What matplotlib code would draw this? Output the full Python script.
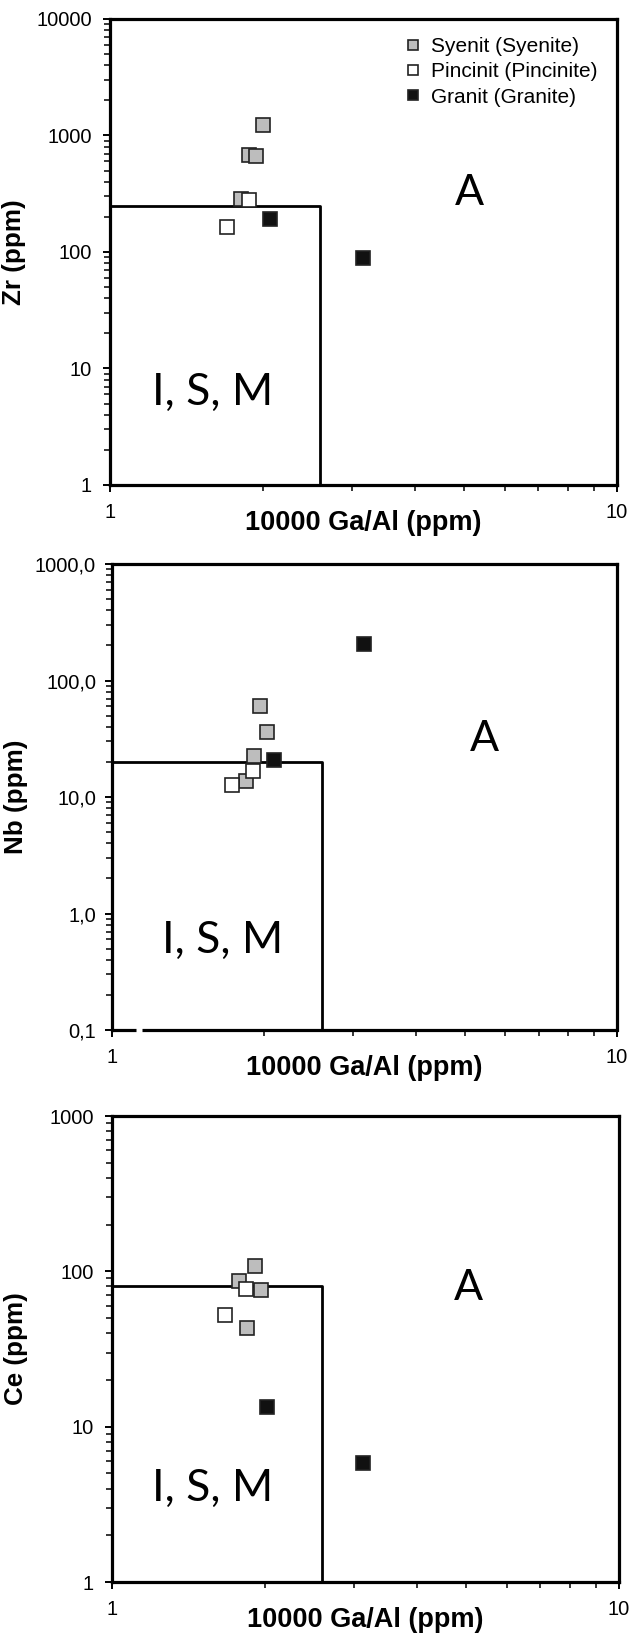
import matplotlib.pyplot as plt
from matplotlib.ticker import FixedLocator, FixedFormatter, LogLocator, NullFormatter

plt.rcParams['font.family'] = ['Liberation Sans', 'DejaVu Sans']

# 10000 Ga/Al vs Zr, Nb, Ce (ppm)
zr_syenite_x = [2.00, 1.88, 1.94, 1.81]
zr_syenite_y = [1224, 684, 670, 284]
zr_pinc_x = [1.88, 1.70]
zr_pinc_y = [280, 165]
zr_granite_x = [2.07, 3.16]
zr_granite_y = [191, 89]

nb_syenite_x = [1.96, 2.03, 1.91, 1.84]
nb_syenite_y = [61, 36.5, 22.4, 13.8]
nb_pinc_x = [1.73, 1.90]
nb_pinc_y = [12.7, 16.7]
nb_granite_x = [2.09, 3.16]
nb_granite_y = [20.7, 205]

ce_syenite_x = [1.91, 1.78, 1.97, 1.85]
ce_syenite_y = [109, 87, 76, 43]
ce_pinc_x = [1.84, 1.67]
ce_pinc_y = [77, 52]
ce_granite_x = [2.02, 3.13]
ce_granite_y = [13.3, 5.8]

# Whalen et al. boundaries
ga_al_limit = 2.6
zr_limit = 250
nb_limit = 20
ce_limit = 80

zr_ticks = [1, 10, 100, 1000, 10000]
zr_labels = ['1', '10', '100', '1000', '10000']
nb_ticks = [0.1, 1, 10, 100, 1000]
nb_labels = ['0,1', '1,0', '10,0', '100,0', '1000,0']
ce_ticks = [1, 10, 100, 1000]
ce_labels = ['1', '10', '100', '1000']

labels = ['Syenit (Syenite)', 'Pincinit (Pincinite)', 'Granit (Granite)']
fills = ['#bdbdbd', 'white', '#111111']

fig = plt.figure(figsize=(6.3, 16.34), dpi=100)

panels = [
    ([0.1746, 0.7032, 0.8048, 0.2852], 'Zr (ppm)', zr_ticks, zr_labels, zr_limit,
     [(zr_syenite_x, zr_syenite_y), (zr_pinc_x, zr_pinc_y), (zr_granite_x, zr_granite_y)],
     (0.708, 0.601), (0.203, 0.172), 8),
    ([0.1778, 0.3696, 0.8016, 0.2852], 'Nb (ppm)', nb_ticks, nb_labels, nb_limit,
     [(nb_syenite_x, nb_syenite_y), (nb_pinc_x, nb_pinc_y), (nb_granite_x, nb_granite_y)],
     (0.737, 0.599), (0.220, 0.165), 6.5),
    ([0.1778, 0.0318, 0.8048, 0.2852], 'Ce (ppm)', ce_ticks, ce_labels, ce_limit,
     [(ce_syenite_x, ce_syenite_y), (ce_pinc_x, ce_pinc_y), (ce_granite_x, ce_granite_y)],
     (0.702, 0.605), (0.199, 0.174), 8),
]

for i, (rect, ylab, yt, ytl, limit, groups, a_pos, ism_pos, ypad) in enumerate(panels):
    ax = fig.add_axes(rect)
    ax.set_xscale('log')
    ax.set_yscale('log')
    ax.set_xlim(1, 10)
    ax.set_ylim(yt[0], yt[-1])

    # field boundary
    ax.plot([1, ga_al_limit, ga_al_limit], [limit, limit, yt[0]],
            color='black', lw=2.0, zorder=2)

    for (x, y), fc, lab in zip(groups, fills, labels):
        ax.plot(x, y, 's', ms=9.5, mfc=fc, mec='#222222', mew=1.2,
                ls='none', label=lab, zorder=3)

    ax.text(*a_pos, 'A', transform=ax.transAxes, ha='center', va='baseline',
            fontsize=31, family='Lato')
    ax.text(*ism_pos, 'I, S, M', transform=ax.transAxes, ha='center', va='baseline',
            fontsize=32, family='Lato')

    ax.yaxis.set_major_locator(FixedLocator(yt))
    ax.yaxis.set_major_formatter(FixedFormatter(ytl))
    ax.yaxis.set_minor_locator(LogLocator(base=10, subs=range(2, 10), numticks=20))
    ax.yaxis.set_minor_formatter(NullFormatter())
    ax.xaxis.set_major_locator(FixedLocator([1, 10]))
    ax.xaxis.set_major_formatter(FixedFormatter(['1', '10']))
    ax.xaxis.set_minor_locator(LogLocator(base=10, subs=range(2, 10), numticks=20))
    ax.xaxis.set_minor_formatter(NullFormatter())

    ax.tick_params(which='major', direction='out', length=5, width=1.4,
                   labelsize=14.5, color='black')
    ax.tick_params(which='minor', direction='out', length=4, width=1.1)
    ax.tick_params(axis='y', pad=ypad)
    ax.tick_params(axis='x', pad=8)

    for s in ax.spines.values():
        s.set_linewidth(2.3)

    if i == 1:
        # bottom spine has a small break near the left in the original
        ax.spines['bottom'].set_visible(False)
        ax.plot([0, 0.047], [0, 0], transform=ax.transAxes, color='black',
                lw=2.3, clip_on=False, solid_capstyle='butt')
        ax.plot([0.059, 1], [0, 0], transform=ax.transAxes, color='black',
                lw=2.3, clip_on=False, solid_capstyle='butt')

    ax.set_ylabel(ylab, fontsize=18.7, fontweight='bold')
    ax.yaxis.set_label_coords(-0.166, 0.5)
    ax.set_xlabel('10000 Ga/Al (ppm)', fontsize=19.5, fontweight='bold')
    ax.xaxis.label.set_va('center')
    ax.xaxis.set_label_coords(0.5, -0.0815)

    if i == 0:
        ax.legend(loc='upper left', bbox_to_anchor=(0.583, 0.961), frameon=False,
                  fontsize=15, handlelength=0.7, handletextpad=0.5,
                  labelspacing=0.3, borderpad=0, borderaxespad=0,
                  markerscale=0.8)

fig.savefig('out.png', dpi=100)
